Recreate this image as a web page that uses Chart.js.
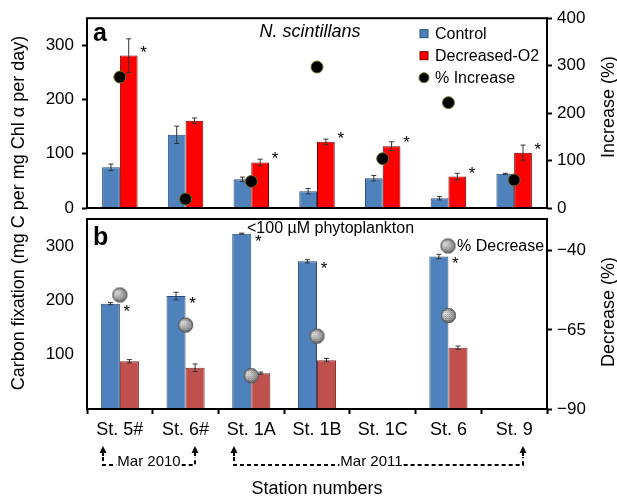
<!DOCTYPE html>
<html>
<head>
<meta charset="utf-8">
<script src="https://cdn.jsdelivr.net/npm/chart.js@4.4.1/dist/chart.umd.min.js"></script>
<style>
  html, body { margin: 0; padding: 0; background: #fff; }
  #wrap { position: relative; width: 617px; height: 500px; overflow: hidden; }
  #wrap canvas { position: absolute; left: 0; top: 0; }
</style>
</head>
<body>
<div id="wrap">
  <canvas id="panelB" width="617" height="500"></canvas>
  <canvas id="panelA" width="617" height="500"></canvas>
</div>
<script>
// ---- data ----
const stations = ['St. 5#', 'St. 6#', 'St. 1A', 'St. 1B', 'St. 1C', 'St. 6', 'St. 9'];

// (a) N. scintillans
const controlA       = [75, 135, 53, 31, 55, 18, 63];
const controlAErr    = [6, 16, 4, 5, 5, 3, 1];
const decreasedO2    = [281, 161, 84, 122, 114, 58, 102];
const decreasedO2Err = [31, 5, 6, 5, 8, 6, 14];
const increasePct    = [276, 19, 56, 297, 104, 222, 59];
const starsA         = [1, 0, 1, 1, 1, 1, 1];

// (b) <100 µM phytoplankton
const controlB       = [194, 208, 323, 272, null, 281, null];
const controlBErr    = [2, 7, 1, 3, null, 4, null];
const decreasedB     = [88, 76, 66, 90, null, 113, null];
const decreasedBErr  = [3, 7, 2, 3, null, 3, null];
const decreasePct    = [-54, -63.5, -79.5, -67, null, -60.5, null];
const starsB         = [1, 1, 1, 1, 0, 1, 0];

// axis ticks
const ticksALeft  = [0, 100, 200, 300];
const ticksARight = [0, 100, 200, 300, 400];
const ticksBLeft  = [100, 200, 300];
const ticksBRight = [-90, -65, -40];

// sampling cruises
const cruiseLabels = ['Mar 2010', 'Mar 2011'];
const cruiseFrom   = ['St. 5#', 'St. 1A'];
const cruiseTo     = ['St. 6#', 'St. 9'];

// ---- styling ----
const FONT = "'Liberation Sans', Arial, Helvetica, sans-serif";
const W = 617;
const PLOT_LEFT = 87, PLOT_RIGHT = 547;
const BLUE = '#4f81bd', BLUE_EDGE = '#2b4c78';
const RED = '#ff0000', RED_EDGE = '#7a0000';
const BRICK = '#c0504d', BRICK_EDGE = '#7d2d2b';

Chart.defaults.font.family = FONT;
Chart.defaults.color = '#000';

// grey dithered disc used for the "% Decrease" markers
function ditheredDisc(r) {
  const size = Math.ceil(r * 2) + 2;
  const c = document.createElement('canvas');
  c.width = c.height = size;
  const g = c.getContext('2d');
  const m = size / 2;
  g.save();
  g.beginPath(); g.arc(m, m, r, 0, Math.PI * 2); g.clip();
  const grad = g.createRadialGradient(m - r * 0.3, m - r * 0.35, 1, m, m, r);
  grad.addColorStop(0, '#eeeeee');
  grad.addColorStop(0.65, '#a0a0a0');
  grad.addColorStop(1, '#4a4a4a');
  g.fillStyle = grad;
  g.fillRect(0, 0, size, size);
  g.fillStyle = 'rgba(0,0,0,0.3)';
  for (let y = 0; y < size; y++)
    for (let x = 0; x < size; x++)
      if ((x + y) % 2 === 0 && Math.abs(x - m) < r * 0.6) g.fillRect(x, y, 1, 1);
  g.fillStyle = 'rgba(255,255,255,0.25)';
  for (let y = 0; y < size; y += 2) g.fillRect(0, y, size, 1);
  g.restore();
  g.strokeStyle = '#555';
  g.lineWidth = 1;
  g.beginPath(); g.arc(m, m, r - 0.5, 0, Math.PI * 2); g.stroke();
  return c;
}
const discMarker = ditheredDisc(7.5);

function yAxis(position, min, max, tickValues, tickLen, pad) {
  return {
    type: 'linear',
    position,
    min, max,
    afterFit: s => { s.width = position === 'left' ? PLOT_LEFT : W - PLOT_RIGHT; },
    afterBuildTicks: s => { s.ticks = tickValues.map(v => ({ value: v })); },
    grid: {
      display: true, drawOnChartArea: false,
      drawTicks: tickLen > 0, tickLength: tickLen, tickWidth: 2, color: '#000'
    },
    border: { display: false },
    ticks: {
      color: '#000', font: { size: 17 }, padding: pad,
      callback: v => String(v).replace('-', '\u2212')
    }
  };
}

// black frame round the plotting area
const framePlugin = {
  id: 'frame',
  afterDatasetsDraw(chart) {
    const a = chart.chartArea, ctx = chart.ctx;
    ctx.save();
    ctx.strokeStyle = '#000';
    ctx.lineWidth = 2;
    ctx.strokeRect(a.left, a.top, a.right - a.left, a.bottom - a.top);
    ctx.restore();
  }
};

// error bars and significance stars on the bar datasets
const errorPlugin = {
  id: 'errorBars',
  afterDatasetsDraw(chart) {
    const ctx = chart.ctx;
    ctx.save();
    chart.data.datasets.forEach((ds, di) => {
      if (!ds.errors) return;
      const meta = chart.getDatasetMeta(di);
      const ys = chart.scales[meta.yAxisID];
      meta.data.forEach((bar, i) => {
        const v = ds.data[i], e = ds.errors[i];
        if (v == null) return;
        if (e) {
          const yHi = ys.getPixelForValue(v + e), yLo = ys.getPixelForValue(v - e);
          ctx.strokeStyle = '#333';
          ctx.lineWidth = 1;
          ctx.beginPath();
          ctx.moveTo(bar.x, yHi); ctx.lineTo(bar.x, yLo);
          ctx.moveTo(bar.x - 2.5, yHi); ctx.lineTo(bar.x + 2.5, yHi);
          ctx.moveTo(bar.x - 2.5, yLo); ctx.lineTo(bar.x + 2.5, yLo);
          ctx.stroke();
        }
        if (ds.stars && ds.stars[i]) {
          ctx.fillStyle = '#000';
          ctx.font = '17px ' + FONT;
          ctx.textAlign = 'center';
          ctx.textBaseline = 'alphabetic';
          const sx = bar.x + bar.width / 2 + ds.starDx;
          const sy = bar.y + ds.starDy + 10;
          ctx.fillText('*', sx, sy);
        }
      });
    });
    ctx.restore();
  }
};

function rotatedText(ctx, text, x, y, font) {
  ctx.save();
  ctx.translate(x, y);
  ctx.rotate(-Math.PI / 2);
  ctx.font = font;
  ctx.fillStyle = '#000';
  ctx.textAlign = 'center';
  ctx.textBaseline = 'middle';
  ctx.fillText(text, 0, 0);
  ctx.restore();
}

// ---- panel (a) ----
const panelAText = {
  id: 'panelAText',
  afterDraw(chart) {
    const a = chart.chartArea, ctx = chart.ctx;
    ctx.save();
    ctx.fillStyle = '#000';
    ctx.textBaseline = 'alphabetic';
    ctx.textAlign = 'left';
    ctx.font = 'bold 25px ' + FONT;
    ctx.fillText('a', a.left + 6, a.top + 23);
    ctx.font = 'italic 18px ' + FONT;
    ctx.textAlign = 'center';
    ctx.textBaseline = 'middle';
    ctx.fillText('N. scintillans', (a.left + a.right) / 2 - 7, a.top + 14);

    // legend
    const lx = a.right - 123;
    const rows = chart.data.datasets.map(d => d.label);
    ctx.font = '16px ' + FONT;
    ctx.textAlign = 'left';
    rows.forEach((label, i) => {
      const ds = chart.data.datasets[i];
      const cy = a.top + 15.5 + i * 22;
      if (ds.type === 'line') {
        ctx.beginPath();
        ctx.arc(lx, cy, 5, 0, Math.PI * 2);
        ctx.fillStyle = '#000';
        ctx.fill();
        ctx.strokeStyle = ds.pointBorderColor;
        ctx.lineWidth = 1;
        ctx.stroke();
      } else {
        ctx.fillStyle = ds.backgroundColor;
        ctx.fillRect(lx - 4, cy - 4, 8, 8);
        ctx.strokeStyle = ds.borderColor;
        ctx.lineWidth = 1;
        ctx.strokeRect(lx - 4, cy - 4, 8, 8);
      }
      ctx.fillStyle = '#000';
      ctx.fillText(label, lx + 11, cy + 1);
    });
    rotatedText(ctx, 'Increase (%)', 609, (a.top + a.bottom) / 2 - 6, '18px ' + FONT);
    ctx.restore();
  }
};

new Chart(document.getElementById('panelA'), {
  type: 'bar',
  data: {
    labels: stations,
    datasets: [
      {
        label: 'Control', data: controlA, errors: controlAErr,
        backgroundColor: BLUE, borderColor: BLUE_EDGE, borderWidth: 1,
        categoryPercentage: 0.54, barPercentage: 1, order: 1, yAxisID: 'y'
      },
      {
        label: 'Decreased-O2', data: decreasedO2, errors: decreasedO2Err,
        stars: starsA, starDx: 6, starDy: -8,
        backgroundColor: RED, borderColor: RED_EDGE, borderWidth: 1,
        categoryPercentage: 0.54, barPercentage: 1, order: 1, yAxisID: 'y'
      },
      {
        type: 'line', label: '% Increase', data: increasePct, yAxisID: 'y2',
        showLine: false, order: 0,
        pointRadius: 6, pointBorderWidth: 1,
        pointBackgroundColor: '#000', pointBorderColor: '#6d6d2a'
      }
    ]
  },
  options: {
    responsive: false, animation: false, devicePixelRatio: 1, events: [],
    layout: { padding: { top: 18, bottom: 292, left: 0, right: 0 } },
    plugins: { legend: { display: false }, tooltip: { enabled: false } },
    scales: {
      x: { display: false },
      y: yAxis('left', 0, 350, ticksALeft, 5, 8),
      y2: yAxis('right', 0, 400, ticksARight, 5, 5)
    }
  },
  plugins: [framePlugin, errorPlugin, panelAText]
});

// ---- panel (b) ----
const panelBText = {
  id: 'panelBText',
  afterDraw(chart) {
    const a = chart.chartArea, ctx = chart.ctx;
    ctx.save();
    ctx.fillStyle = '#000';
    ctx.textAlign = 'left';
    ctx.textBaseline = 'alphabetic';
    ctx.font = 'bold 25px ' + FONT;
    ctx.fillText('b', a.left + 6, a.top + 26);
    ctx.font = '16px ' + FONT;
    ctx.textBaseline = 'middle';
    ctx.fillText('<100 \u00b5M phytoplankton', a.left + 160, a.top + 10);

    // legend
    const lx = a.right - 99, ly = a.top + 27;
    ctx.drawImage(discMarker, lx - discMarker.width / 2, ly - discMarker.height / 2);
    ctx.fillText('% Decrease', lx + 9, ly + 1);

    rotatedText(ctx, 'Decrease (%)', 609, (a.top + a.bottom) / 2 - 2, '18px ' + FONT);
    rotatedText(ctx, 'Carbon fixation (mg C per mg Chl \u03b1 per day)', 19, 213, '18px ' + FONT);

    // cruise brackets under the station labels
    const xs = chart.scales.x;
    const tipY = a.bottom + 37, lineY = a.bottom + 56;
    ctx.font = '15px ' + FONT;
    ctx.textAlign = 'center';
    ctx.textBaseline = 'alphabetic';
    cruiseLabels.forEach((label, k) => {
      const x0 = Math.round(xs.getPixelForValue(stations.indexOf(cruiseFrom[k])) - 17);
      const x1 = Math.round(xs.getPixelForValue(stations.indexOf(cruiseTo[k])) + 9);
      const tw = ctx.measureText(label).width;
      const tc = (x0 + x1) / 2 - (k === 1 ? 7 : 0);
      ctx.fillStyle = '#000';
      ctx.fillText(label, tc, lineY + 1);
      [x0, x1].forEach(px => {
        ctx.beginPath();
        ctx.moveTo(px, tipY);
        ctx.lineTo(px - 3.5, tipY + 7);
        ctx.lineTo(px + 3.5, tipY + 7);
        ctx.closePath();
        ctx.fill();
        ctx.setLineDash([]);
        ctx.lineWidth = 2;
        ctx.strokeStyle = '#000';
        ctx.beginPath();
        ctx.moveTo(px, tipY + 5); ctx.lineTo(px, tipY + 10);
        ctx.stroke();
      });
      ctx.lineWidth = 2;
      ctx.setLineDash([4, 3]);
      ctx.beginPath();
      ctx.moveTo(x0, tipY + 11); ctx.lineTo(x0, lineY); ctx.lineTo(tc - tw / 2 - 1, lineY);
      ctx.moveTo(tc + tw / 2 + 1, lineY); ctx.lineTo(x1, lineY); ctx.lineTo(x1, tipY + 11);
      ctx.stroke();
      ctx.setLineDash([]);
    });
    ctx.restore();
  }
};

new Chart(document.getElementById('panelB'), {
  type: 'bar',
  data: {
    labels: stations,
    datasets: [
      {
        label: 'Control', data: controlB, errors: controlBErr,
        stars: starsB, starDx: 7, starDy: 3,
        backgroundColor: BLUE, borderColor: BLUE_EDGE, borderWidth: 1,
        categoryPercentage: 0.58, barPercentage: 1, order: 1, yAxisID: 'y'
      },
      {
        label: 'Decreased-O2', data: decreasedB, errors: decreasedBErr,
        backgroundColor: BRICK, borderColor: BRICK_EDGE, borderWidth: 1,
        categoryPercentage: 0.58, barPercentage: 1, order: 1, yAxisID: 'y'
      },
      {
        type: 'line', label: '% Decrease', data: decreasePct, yAxisID: 'y2',
        showLine: false, order: 0, spanGaps: false,
        pointStyle: discMarker, pointRadius: 7.5
      }
    ]
  },
  options: {
    responsive: false, animation: false, devicePixelRatio: 1, events: [],
    layout: { padding: { top: 219, bottom: 0, left: 0, right: 0 } },
    plugins: { legend: { display: false }, tooltip: { enabled: false } },
    scales: {
      x: {
        afterFit: s => { s.height = 91; },
        grid: {
          display: true, drawOnChartArea: false, offset: true,
          drawTicks: true, tickLength: 5, tickWidth: 2, color: '#000'
        },
        border: { display: false },
        ticks: { color: '#000', font: { size: 18 }, padding: 5, maxRotation: 0, autoSkip: false },
        title: { display: true, text: 'Station numbers', color: '#000', font: { size: 18 }, padding: 0 }
      },
      y: yAxis('left', 0, 350, ticksBLeft, 0, 13),
      y2: yAxis('right', -90, -30, ticksBRight, 5, 5)
    }
  },
  plugins: [framePlugin, errorPlugin, panelBText]
});
</script>
</body>
</html>
